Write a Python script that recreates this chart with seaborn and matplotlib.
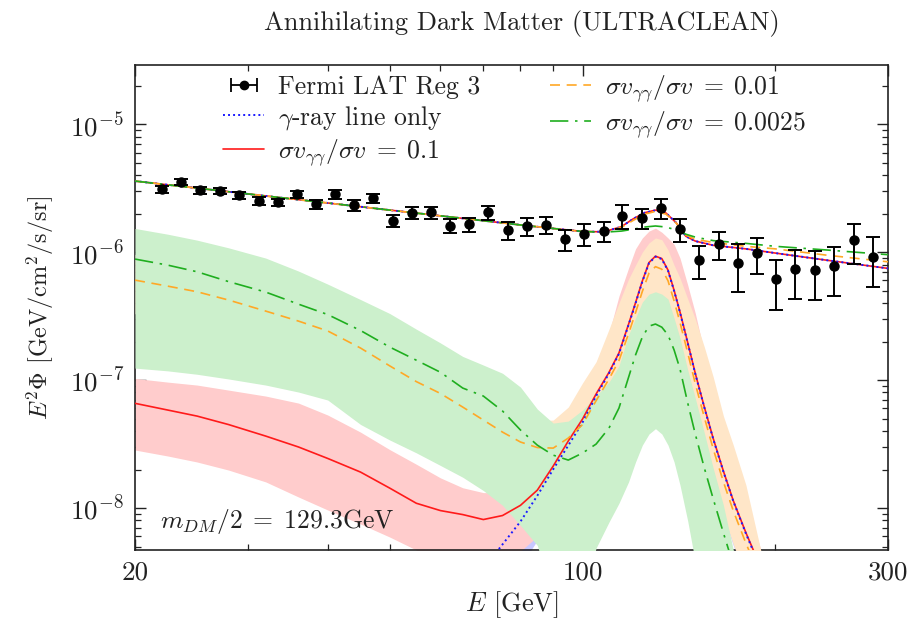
import numpy as np
import matplotlib
matplotlib.use("Agg")
import matplotlib.pyplot as plt
from matplotlib.lines import Line2D
from matplotlib.ticker import FixedLocator, FixedFormatter, LogLocator, NullFormatter
import seaborn as sns

# ---------------- Fermi LAT data (Reg 3) ----------------
E_data = [22.0, 23.6, 25.3, 27.1, 29.1, 31.2, 33.4, 35.8, 38.4, 41.1, 44.0, 47.1,
          50.5, 54.1, 57.9, 62.1, 66.5, 71.3, 76.4, 81.9, 87.7, 94.0, 100.7, 107.9,
          115.4, 123.8, 132.6, 142.1, 152.3, 163.1, 174.9, 187.2, 200.7, 215.0,
          230.4, 246.8, 265.2, 284.2]
F_data = [3.10e-6, 3.54e-6, 3.05e-6, 3.01e-6, 2.79e-6, 2.52e-6, 2.45e-6, 2.82e-6,
          2.36e-6, 2.82e-6, 2.33e-6, 2.63e-6, 1.76e-6, 2.03e-6, 2.05e-6, 1.60e-6,
          1.65e-6, 2.05e-6, 1.49e-6, 1.60e-6, 1.63e-6, 1.26e-6, 1.38e-6, 1.46e-6,
          1.92e-6, 1.85e-6, 2.20e-6, 1.51e-6, 8.66e-7, 1.15e-6, 8.25e-7, 9.87e-7,
          6.12e-7, 7.37e-7, 7.20e-7, 7.78e-7, 1.24e-6, 9.19e-7]
F_err = [0.20e-6, 0.18e-6, 0.18e-6, 0.17e-6, 0.17e-6, 0.17e-6, 0.17e-6, 0.18e-6,
         0.20e-6, 0.22e-6, 0.22e-6, 0.21e-6, 0.18e-6, 0.23e-6, 0.22e-6, 0.20e-6,
         0.21e-6, 0.26e-6, 0.24e-6, 0.26e-6, 0.24e-6, 0.24e-6, 0.27e-6, 0.27e-6,
         0.40e-6, 0.33e-6, 0.40e-6, 0.31e-6, 0.25e-6, 0.29e-6, 0.34e-6, 0.31e-6,
         0.26e-6, 0.31e-6, 0.30e-6, 0.32e-6, 0.43e-6, 0.39e-6]

# ---------------- total model spectra (background + DM) ----------------
E_tot = [20, 30, 40, 50, 60, 70, 80, 90, 100, 108, 115, 120, 125, 130, 135, 140,
         145, 150, 160, 180, 200, 240, 300]
tot_line = [3.59e-6, 2.85e-6, 2.42e-6, 2.13e-6, 1.92e-6, 1.76e-6, 1.63e-6, 1.53e-6,
            1.45e-6, 1.44e-6, 1.58e-6, 1.82e-6, 2.03e-6, 2.12e-6, 2.02e-6, 1.70e-6,
            1.33e-6, 1.22e-6, 1.13e-6, 1.06e-6, 9.83e-7, 8.66e-7, 7.46e-7]
tot_01 = [3.59e-6, 2.85e-6, 2.42e-6, 2.13e-6, 1.92e-6, 1.76e-6, 1.63e-6, 1.53e-6,
          1.45e-6, 1.44e-6, 1.58e-6, 1.82e-6, 2.03e-6, 2.13e-6, 2.02e-6, 1.70e-6,
          1.33e-6, 1.22e-6, 1.13e-6, 1.06e-6, 9.83e-7, 8.66e-7, 7.46e-7]
tot_001 = [3.59e-6, 2.85e-6, 2.42e-6, 2.13e-6, 1.92e-6, 1.76e-6, 1.63e-6, 1.53e-6,
           1.45e-6, 1.44e-6, 1.56e-6, 1.77e-6, 1.98e-6, 2.08e-6, 1.98e-6, 1.69e-6,
           1.36e-6, 1.26e-6, 1.19e-6, 1.11e-6, 1.06e-6, 9.48e-7, 8.40e-7]
tot_00025 = [3.59e-6, 2.85e-6, 2.42e-6, 2.13e-6, 1.92e-6, 1.76e-6, 1.63e-6, 1.53e-6,
             1.45e-6, 1.43e-6, 1.46e-6, 1.51e-6, 1.57e-6, 1.60e-6, 1.57e-6, 1.49e-6,
             1.38e-6, 1.31e-6, 1.23e-6, 1.17e-6, 1.11e-6, 1.04e-6, 9.55e-7]

# ---------------- DM components and their uncertainty bands ----------------
E_dm = [20, 22.5, 25, 28, 32, 36, 40, 45, 50, 55, 60, 65, 70, 75, 80, 85, 90, 95,
        100, 105, 110, 114, 118, 121, 124, 127, 130, 133, 136, 139, 142, 146, 150,
        155, 160, 166, 172, 180, 190, 200, 300]

line_only = [1e-10, 1e-10, 1e-10, 1e-10, 1e-10, 1e-10, 1e-10, 1e-10, 1e-10, 1e-10,
             1e-10, 1.5e-9, 3.34e-9, 5.2e-9, 7.85e-9, 1.25e-8, 2.01e-8, 3.08e-8,
             4.66e-8, 7.5e-8, 1.13e-7, 1.6e-7, 2.69e-7, 3.97e-7, 5.88e-7, 8.2e-7,
             9.22e-7, 8.82e-7, 7.16e-7, 4.98e-7, 3.37e-7, 1.94e-7, 1.12e-7, 6.08e-8,
             3.46e-8, 1.92e-8, 1.13e-8, 6.3e-9, 3.31e-9, 2e-9, 1e-10]
line_lo = [1e-10, 1e-10, 1e-10, 1e-10, 1e-10, 1e-10, 1e-10, 1e-10, 1e-10, 1e-10,
           1e-10, 1e-10, 1.5e-9, 2.3e-9, 3.5e-9, 5.6e-9, 9e-9, 1.4e-8, 2.1e-8,
           3.4e-8, 5.1e-8, 7.2e-8, 1.2e-7, 1.8e-7, 2.6e-7, 3.7e-7, 4.1e-7, 4.0e-7,
           3.2e-7, 2.2e-7, 1.5e-7, 8.7e-8, 5.0e-8, 2.7e-8, 1.55e-8, 8.6e-9, 5.1e-9,
           2.8e-9, 1.5e-9, 9e-10, 1e-10]
line_hi = [1e-10, 1e-10, 1e-10, 1e-10, 1e-10, 1e-10, 1e-10, 1e-10, 1e-10, 1e-10,
           1e-10, 2.5e-9, 5.5e-9, 8.5e-9, 1.3e-8, 2.0e-8, 3.2e-8, 4.9e-8, 7.4e-8,
           1.19e-7, 1.8e-7, 2.55e-7, 4.3e-7, 6.3e-7, 9.3e-7, 1.3e-6, 1.46e-6, 1.4e-6,
           1.14e-6, 7.9e-7, 5.4e-7, 3.1e-7, 1.8e-7, 9.7e-8, 5.5e-8, 3.1e-8, 1.8e-8,
           1.0e-8, 4.2e-9, 3.2e-9, 1e-10]

dm_01 = [6.58e-8, 5.83e-8, 5.23e-8, 4.49e-8, 3.65e-8, 3.00e-8, 2.44e-8, 1.91e-8,
         1.43e-8, 1.09e-8, 9.55e-9, 8.89e-9, 8.13e-9, 8.74e-9, 1.05e-8, 1.38e-8,
         2.13e-8, 3.34e-8, 4.96e-8, 7.78e-8, 1.15e-7, 1.63e-7, 2.73e-7, 4.02e-7,
         5.95e-7, 8.28e-7, 9.30e-7, 8.9e-7, 7.23e-7, 5.03e-7, 3.40e-7, 1.96e-7,
         1.13e-7, 6.14e-8, 3.5e-8, 1.94e-8, 1.14e-8, 6.4e-9, 3.4e-9, 2.1e-9, 1e-10]
dm_01_lo = [2.84e-8, 2.55e-8, 2.29e-8, 1.98e-8, 1.60e-8, 1.22e-8, 9.65e-9, 7.5e-9,
            5.93e-9, 4.7e-9, 3.8e-9, 3.3e-9, 3.3e-9, 3.8e-9, 4.6e-9, 6.0e-9, 9.5e-9,
            1.5e-8, 2.3e-8, 3.6e-8, 5.5e-8, 8e-8, 1.35e-7, 2.0e-7, 3.0e-7, 4.1e-7,
            4.6e-7, 4.4e-7, 3.6e-7, 2.5e-7, 1.7e-7, 9.8e-8, 5.6e-8, 3.0e-8, 1.7e-8,
            9.5e-9, 5.6e-9, 3.1e-9, 1.6e-9, 1e-9, 1e-10]
dm_01_hi = [1.03e-7, 9.64e-8, 9.14e-8, 8.35e-8, 7.5e-8, 6.61e-8, 5.33e-8, 3.92e-8,
            2.86e-8, 2.2e-8, 1.72e-8, 1.44e-8, 1.32e-8, 1.32e-8, 1.44e-8, 1.9e-8,
            3.05e-8, 4.87e-8, 7.91e-8, 1.36e-7, 2.33e-7, 4.53e-7, 7.5e-7, 1.06e-6,
            1.29e-6, 1.46e-6, 1.54e-6, 1.43e-6, 1.29e-6, 1.15e-6, 8.98e-7, 5.52e-7,
            3.34e-7, 1.63e-7, 8.35e-8, 4.45e-8, 2.59e-8, 1.11e-8, 4.7e-9, 2.5e-9, 1e-10]

dm_001 = [6.04e-7, 5.42e-7, 4.90e-7, 4.22e-7, 3.46e-7, 2.89e-7, 2.42e-7, 1.78e-7,
          1.29e-7, 9.73e-8, 7.85e-8, 6.15e-8, 4.87e-8, 3.92e-8, 3.28e-8, 2.97e-8,
          2.94e-8, 3.52e-8, 4.49e-8, 6.9e-8, 1.02e-7, 1.42e-7, 2.30e-7, 3.36e-7,
          4.93e-7, 6.85e-7, 7.70e-7, 7.35e-7, 5.97e-7, 4.16e-7, 2.82e-7, 1.63e-7,
          9.4e-8, 5.1e-8, 2.9e-8, 1.6e-8, 9.5e-9, 5.3e-9, 2.8e-9, 1.7e-9, 1e-10]
dm_001_lo = [3.3e-7, 3.0e-7, 2.7e-7, 2.3e-7, 1.9e-7, 1.6e-7, 1.33e-7, 9.8e-8, 7.1e-8,
             5.4e-8, 4.3e-8, 3.4e-8, 2.7e-8, 2.2e-8, 1.8e-8, 1.6e-8, 1.6e-8, 1.9e-8,
             2.5e-8, 3.8e-8, 5.6e-8, 7.8e-8, 1.27e-7, 1.85e-7, 2.7e-7, 3.8e-7, 4.2e-7,
             4.0e-7, 3.3e-7, 2.3e-7, 1.55e-7, 9.0e-8, 5.2e-8, 2.8e-8, 1.6e-8, 8.8e-9,
             5.2e-9, 2.9e-9, 1.5e-9, 9e-10, 1e-10]
dm_001_hi = [9.6e-7, 8.6e-7, 7.8e-7, 6.7e-7, 5.5e-7, 4.6e-7, 3.9e-7, 2.85e-7, 2.05e-7,
             1.55e-7, 1.25e-7, 9.8e-8, 7.8e-8, 6.3e-8, 5.3e-8, 4.8e-8, 4.87e-8,
             6.15e-8, 9.5e-8, 1.39e-7, 2.5e-7, 4.0e-7, 6.15e-7, 7.91e-7, 1.0e-6,
             1.18e-6, 1.29e-6, 1.25e-6, 1.04e-6, 7.91e-7, 6.26e-7, 4.3e-7, 3.0e-7,
             1.81e-7, 1.06e-7, 5.23e-8, 3.1e-8, 1.51e-8, 4.6e-9, 2.5e-9, 1e-10]

dm_00025 = [8.82e-7, 7.91e-7, 7.02e-7, 5.88e-7, 4.87e-7, 3.92e-7, 3.25e-7, 2.44e-7,
            1.81e-7, 1.43e-7, 1.15e-7, 8.66e-8, 7.5e-8, 5.73e-8, 4.07e-8, 3.1e-8,
            2.59e-8, 2.37e-8, 2.69e-8, 3.16e-8, 4.22e-8, 6.04e-8, 1.05e-7, 1.57e-7,
            2.17e-7, 2.64e-7, 2.74e-7, 2.59e-7, 2.25e-7, 1.72e-7, 1.22e-7, 6.61e-8,
            3.79e-8, 2.05e-8, 1.18e-8, 6.38e-9, 3.59e-9, 2e-9, 1e-9, 6e-10, 1e-10]
dm_00025_lo = [1.24e-7, 1.18e-7, 1.11e-7, 1.02e-7, 9.14e-8, 8.06e-8, 6.98e-8, 4.5e-8,
               3.4e-8, 2.7e-8, 2.15e-8, 1.74e-8, 1.37e-8, 1.05e-8, 7.3e-9, 5.1e-9,
               2e-9, 2e-9, 2e-9, 4.87e-9, 7.78e-9, 1.09e-8, 1.6e-8, 2.29e-8, 3.1e-8,
               3.79e-8, 4.17e-8, 3.79e-8, 3.1e-8, 2.29e-8, 1.51e-8, 7.9e-9, 3.8e-9,
               2e-9, 2e-9, 1e-9, 1e-9, 1e-9, 1e-9, 1e-9, 1e-10]
dm_00025_hi = [1.53e-6, 1.38e-6, 1.24e-6, 1.08e-6, 8.98e-7, 7.11e-7, 5.62e-7, 4.26e-7,
               3.31e-7, 2.5e-7, 1.95e-7, 1.53e-7, 1.31e-7, 1.13e-7, 8.81e-8, 5.93e-8,
               4.61e-8, 4.78e-8, 5.83e-8, 7.5e-8, 9.64e-8, 1.29e-7, 2.25e-7, 3.05e-7,
               4.07e-7, 4.7e-7, 4.9e-7, 4.7e-7, 4.3e-7, 3.05e-7, 2.13e-7, 1.2e-7,
               7.23e-8, 3.85e-8, 2.05e-8, 1.05e-8, 4.7e-9, 2.5e-9, 1.5e-9, 1e-9, 1e-10]

# ---------------- style ----------------
sns.set_style("ticks")
plt.rcParams["font.family"] = ["cmr10", "DejaVu Serif"]
plt.rcParams["mathtext.fontset"] = "cm"
plt.rcParams["axes.formatter.use_mathtext"] = True
plt.rcParams["axes.unicode_minus"] = False

TXT = "#222222"
C_RED, C_ORANGE, C_GREEN, C_BLUE = "#ff1a1a", "#ffa826", "#1fae1f", "#1a1aff"
B_RED, B_ORANGE, B_GREEN, B_BLUE = "#ffcccc", "#ffe6c8", "#ccf0cc", "#c8c8ff"

fig = plt.figure(figsize=(9.10, 6.29), dpi=100)
ax = fig.add_axes([0.1484, 0.1256, 0.8274, 0.7711])
ax.set_xscale("log")
ax.set_yscale("log")

# uncertainty bands of the DM components
ax.fill_between(E_dm, line_lo, line_hi, color=B_BLUE, lw=0, zorder=1)
ax.fill_between(E_dm, dm_01_lo, dm_01_hi, color=B_RED, lw=0, zorder=2)
ax.fill_between(E_dm, dm_001_lo, dm_001_hi, color=B_ORANGE, lw=0, zorder=3)
ax.fill_between(E_dm, dm_00025_lo, dm_00025_hi, color=B_GREEN, lw=0, zorder=4)

lw = 1.2
styles = {
    "line": dict(color=C_BLUE, linestyle=(0, (1.0, 1.6)), lw=1.4, zorder=6),
    "01": dict(color=C_RED, linestyle="-", lw=lw, zorder=5),
    "001": dict(color=C_ORANGE, linestyle=(0, (6, 4)), lw=lw, zorder=7),
    "00025": dict(color=C_GREEN, linestyle=(0, (11, 4, 1.5, 4)), lw=lw, zorder=8),
}

# DM component curves (lower part)
for key, y in [("01", dm_01), ("line", line_only), ("001", dm_001), ("00025", dm_00025)]:
    sns.lineplot(x=E_dm, y=y, ax=ax, sort=False, estimator=None, **styles[key])

# total spectra (upper part)
for key, y in [("01", tot_01), ("line", tot_line), ("001", tot_001), ("00025", tot_00025)]:
    sns.lineplot(x=E_tot, y=y, ax=ax, sort=False, estimator=None, **styles[key])

# Fermi LAT data points
ax.errorbar(E_data, F_data, yerr=F_err, fmt="o", color="black", ms=6.5,
            elinewidth=1.4, capsize=5, capthick=1.4, zorder=10)

ax.set_xlim(20, 300)
ax.set_ylim(4.7e-9, 2.9e-5)

ax.xaxis.set_major_locator(FixedLocator([20, 100, 300]))
ax.xaxis.set_major_formatter(FixedFormatter(["20", "100", "300"]))
ax.xaxis.set_minor_locator(FixedLocator([30, 40, 50, 60, 70, 80, 90, 200]))
ax.xaxis.set_minor_formatter(NullFormatter())
ax.yaxis.set_major_locator(LogLocator(base=10, numticks=10))
ax.yaxis.set_minor_locator(LogLocator(base=10, subs=np.arange(2, 10), numticks=20))
ax.yaxis.set_minor_formatter(NullFormatter())

ax.tick_params(which="both", direction="in", top=True, right=True, colors=TXT,
               labelcolor=TXT)
ax.tick_params(which="major", length=8, width=1.0, labelsize=19.5, pad=8)
ax.tick_params(which="minor", length=4.5, width=0.9)
for s in ax.spines.values():
    s.set_linewidth(1.2)
    s.set_color(TXT)

ax.set_xlabel(r"$E$ [GeV]", fontsize=19, color=TXT, labelpad=3)
ax.set_ylabel(r"$E^2\Phi$ [GeV/cm$^2$/s/sr]", fontsize=17.5, color=TXT, labelpad=10)
fig.text(0.573, 0.963, "Annihilating Dark Matter (ULTRACLEAN)", ha="center",
         va="center", fontsize=19, color=TXT)

ax.text(0.033, 0.058, r"$m_{DM}/2\;=\;129.3$GeV", transform=ax.transAxes,
        fontsize=18.5, color=TXT, va="center", ha="left")

# legend
data_proxy = ax.errorbar([np.nan], [np.nan], xerr=[[1.0], [1.0]], fmt="o",
                         color="black", ms=6, elinewidth=1.3, capsize=5, capthick=1.3)
handles = [
    data_proxy,
    Line2D([], [], **{k: v for k, v in styles["line"].items() if k != "zorder"}),
    Line2D([], [], **{k: v for k, v in styles["01"].items() if k != "zorder"}),
    Line2D([], [], **{k: v for k, v in styles["001"].items() if k != "zorder"}),
    Line2D([], [], **{k: v for k, v in styles["00025"].items() if k != "zorder"}),
]
labels = [
    "Fermi LAT Reg 3",
    r"$\gamma$-ray line only",
    r"$\sigma v_{\gamma\gamma}/\sigma v\;=\;0.1$",
    r"$\sigma v_{\gamma\gamma}/\sigma v\;=\;0.01$",
    r"$\sigma v_{\gamma\gamma}/\sigma v\;=\;0.0025$",
]
leg = ax.legend(handles, labels, ncol=2, loc="upper left",
                bbox_to_anchor=(0.117, 0.983), frameon=False, fontsize=18.5,
                handlelength=1.6, handletextpad=0.55, columnspacing=2.7,
                labelspacing=0.2, borderaxespad=0.0, borderpad=0.0)
for t in leg.get_texts():
    t.set_color(TXT)

fig.savefig("out.png", dpi=100)
